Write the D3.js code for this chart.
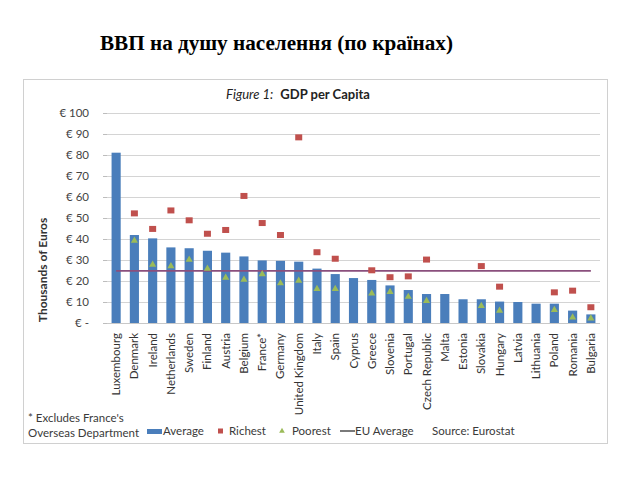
<!DOCTYPE html>
<html>
<head>
<meta charset="utf-8">
<script src="https://cdn.jsdelivr.net/npm/d3@7"></script>
<style>
  html, body { margin: 0; padding: 0; background: #fff; }
  svg { display: block; }
</style>
</head>
<body>
<svg id="chart" width="640" height="480"></svg>
<script>
const countries = ["Luxembourg","Denmark","Ireland","Netherlands","Sweden","Finland","Austria","Belgium","France*","Germany","United Kingdom","Italy","Spain","Cyprus","Greece","Slovenia","Portugal","Czech Republic","Malta","Estonia","Slovakia","Hungary","Latvia","Lithuania","Poland","Romania","Bulgaria"];
const average = [81.1, 41.9, 40.3, 36.0, 35.6, 34.4, 33.5, 31.7, 29.8, 29.6, 29.2, 25.9, 23.3, 21.4, 20.5, 17.9, 15.7, 13.8, 13.8, 11.3, 11.3, 10.2, 10.0, 9.2, 9.2, 5.9, 4.1];
const richest = [null, 52.2, 44.8, 53.6, 48.9, 42.5, 44.3, 60.5, 47.6, 41.9, 88.4, 33.7, 30.6, null, 25.1, 21.8, 22.2, 30.2, null, null, 27.1, 17.3, null, null, 14.6, 15.4, 7.5];
const poorest = [null, 39.2, 27.8, 27.1, 30.2, 25.9, 21.6, 20.6, 23.3, 18.9, 20.2, 16.2, 16.2, null, 14.1, 14.8, 12.5, 10.5, null, null, 8.1, 5.9, null, null, 6.2, 2.7, 2.2];
const euAverage = 24.8;
const yTicks = [0, 10, 20, 30, 40, 50, 60, 70, 80, 90, 100];
const yTickLabels = ["€ -", "€ 10", "€ 20", "€ 30", "€ 40", "€ 50", "€ 60", "€ 70", "€ 80", "€ 90", "€ 100"];

const svg = d3.select("#chart");
const font = "Lato, 'Open Sans', sans-serif";
const textColor = "#3a3a3a";

// Page title
svg.append("text")
  .attr("x", 100).attr("y", 50)
  .attr("font-family", "'Liberation Serif', 'Times New Roman', serif")
  .attr("font-weight", "bold")
  .attr("font-size", 20)
  .attr("textLength", 353)
  .attr("lengthAdjust", "spacingAndGlyphs")
  .attr("fill", "#000")
  .text("ВВП на душу населення (по країнах)");

// Chart frame
svg.append("rect")
  .attr("x", 23.5).attr("y", 79.5).attr("width", 584).attr("height", 364)
  .attr("fill", "#fff").attr("stroke", "#d0d0d0").attr("stroke-width", 1);

// Chart title
const ct = svg.append("text")
  .attr("x", 298).attr("y", 99)
  .attr("text-anchor", "middle")
  .attr("font-family", font)
  .attr("font-size", 13)
  .attr("fill", "#222");
ct.append("tspan").attr("font-style", "italic").text("Figure 1:");
ct.append("tspan").attr("font-weight", "bold").attr("dx", 7).text("GDP per Capita");

const x = d3.scaleBand().domain(countries).range([107, 600]).paddingInner(0.5).paddingOuter(0.25);
const y = d3.scaleLinear().domain([0, 100]).range([323, 113]);

// gridlines
svg.append("g").selectAll("line").data(yTicks.filter(d => d > 0)).join("line")
  .attr("x1", 107).attr("x2", 600)
  .attr("y1", d => Math.round(y(d)) + 0.5).attr("y2", d => Math.round(y(d)) + 0.5)
  .attr("stroke", "#d4d4d4").attr("stroke-width", 1.2);

// y axis
const yAxis = d3.axisLeft(y).tickValues(yTicks)
  .tickFormat((d, i) => yTickLabels[i]).tickSize(4).tickPadding(14);
const gy = svg.append("g").attr("transform", "translate(107,0)").call(yAxis);
gy.select(".domain").remove();
gy.selectAll(".tick line").attr("stroke", "#bdbdbd");
gy.selectAll(".tick text").attr("font-family", font).attr("font-size", 11.5).attr("fill", "#444");

// x axis
const xAxis = d3.axisBottom(x).tickSize(0).tickPadding(0);
const gx = svg.append("g").attr("transform", "translate(0,323)").call(xAxis);
gx.select(".domain").attr("stroke", "#c8c8c8").attr("d", "M107,0.5H600");
gx.selectAll(".tick text")
  .attr("font-family", font).attr("font-size", 11.5).attr("fill", "#333")
  .attr("text-anchor", "end")
  .attr("transform", "translate(4,10) rotate(-90)")
  .attr("x", 0).attr("y", 0).attr("dy", 0);

// bars
svg.append("g").selectAll("rect").data(countries).join("rect")
  .attr("x", d => x(d))
  .attr("width", x.bandwidth())
  .attr("y", (d, i) => y(average[i]))
  .attr("height", (d, i) => y(0) - y(average[i]))
  .attr("fill", "#4a7ebb");

// EU average line
svg.append("line")
  .attr("x1", x(countries[0]) + x.bandwidth() / 2)
  .attr("x2", x(countries[countries.length - 1]) + x.bandwidth() / 2)
  .attr("y1", y(euAverage)).attr("y2", y(euAverage))
  .attr("stroke", "#8a4f7d").attr("stroke-width", 1.6);

// richest squares
svg.append("g").selectAll("rect")
  .data(countries.map((c, i) => ({c, v: richest[i]})).filter(d => d.v !== null))
  .join("rect")
  .attr("x", d => x(d.c) + x.bandwidth() / 2 - 3.5)
  .attr("y", d => y(d.v) - 3)
  .attr("width", 7).attr("height", 6)
  .attr("fill", "#c0504d");

// poorest triangles
const tri = d3.symbol().type(d3.symbolTriangle).size(22);
svg.append("g").selectAll("path")
  .data(countries.map((c, i) => ({c, v: poorest[i]})).filter(d => d.v !== null))
  .join("path")
  .attr("d", tri)
  .attr("transform", d => `translate(${x(d.c) + x.bandwidth() / 2},${y(d.v)})`)
  .attr("fill", "#9bbb59");

// Y axis title
svg.append("text")
  .attr("transform", "translate(47,270) rotate(-90)")
  .attr("text-anchor", "middle")
  .attr("font-family", font).attr("font-size", 12).attr("font-weight", "bold")
  .attr("fill", "#333")
  .text("Thousands of Euros");

// footnote
const note = svg.append("g").attr("font-family", font).attr("font-size", 11.5).attr("fill", textColor);
note.append("text").attr("x", 28).attr("y", 422).text("* Excludes France's");
note.append("text").attr("x", 28).attr("y", 437).text("Overseas Department");

// legend
const lg = svg.append("g").attr("font-family", font).attr("font-size", 11.5).attr("fill", textColor);
lg.append("rect").attr("x", 147).attr("y", 429).attr("width", 15).attr("height", 5).attr("fill", "#4a7ebb");
lg.append("text").attr("x", 163).attr("y", 435).text("Average");
lg.append("rect").attr("x", 218).attr("y", 428.5).attr("width", 5).attr("height", 5).attr("fill", "#c0504d");
lg.append("text").attr("x", 229).attr("y", 435).text("Richest");
lg.append("path").attr("d", d3.symbol().type(d3.symbolTriangle).size(14))
  .attr("transform", "translate(282,431)").attr("fill", "#9bbb59");
lg.append("text").attr("x", 292).attr("y", 435).text("Poorest");
lg.append("line").attr("x1", 340).attr("x2", 355).attr("y1", 431).attr("y2", 431)
  .attr("stroke", "#222").attr("stroke-width", 1.2);
lg.append("text").attr("x", 355).attr("y", 435).text("EU Average");
lg.append("text").attr("x", 432).attr("y", 435).text("Source:  Eurostat");
</script>
</body>
</html>
